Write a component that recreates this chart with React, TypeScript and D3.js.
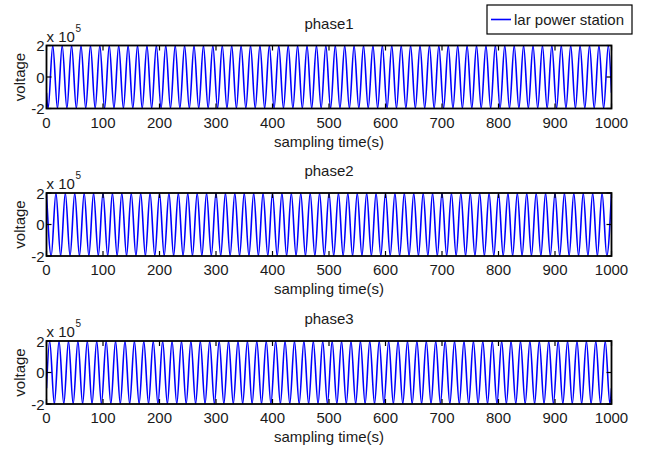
import React from "react";
import * as d3 from "d3";

// ---- data ----
const panelTitles = ["phase1", "phase2", "phase3"];
const xTicks = [0, 100, 200, 300, 400, 500, 600, 700, 800, 900, 1000];
const yTicks = [-2e5, 0, 2e5];
const yTickLabels = ["-2", "0", "2"];
const legendLabel = "lar power station";
const amplitude = [2e5, 2e5, 2e5];
// sign of the first extremum (+1 peak, -1 trough), and values at t=0 / t=1000
const firstSign = [-1, 1, 1];
const startValue = [-1e5, 2e5, -1e5];
const endValue = [-1e5, 2e5, -1e5];

// times of successive extrema (peaks / troughs alternate)
const phase1Extrema = [
  2.8, 11.1, 19.4, 27.8, 36.1, 44.4, 52.8, 61.1, 69.4, 77.8, 86.1, 94.4,
  102.8, 111.1, 119.4, 127.8, 136.1, 144.4, 152.8, 161.1, 169.4, 177.8, 186.1, 194.4,
  202.8, 211.1, 219.4, 227.8, 236.1, 244.4, 252.8, 261.1, 269.4, 277.8, 286.1, 294.4,
  302.8, 311.1, 319.4, 327.8, 336.1, 344.4, 352.8, 361.1, 369.4, 377.8, 386.1, 394.4,
  402.8, 411.1, 419.4, 427.8, 436.1, 444.4, 452.8, 461.1, 469.4, 477.8, 486.1, 494.4,
  502.8, 511.1, 519.4, 527.8, 536.1, 544.4, 552.8, 561.1, 569.4, 577.8, 586.1, 594.4,
  602.8, 611.1, 619.4, 627.8, 636.1, 644.4, 652.8, 661.1, 669.4, 677.8, 686.1, 694.4,
  702.8, 711.1, 719.4, 727.8, 736.1, 744.4, 752.8, 761.1, 769.4, 777.8, 786.1, 794.4,
  802.8, 811.1, 819.4, 827.8, 836.1, 844.4, 852.8, 861.1, 869.4, 877.8, 886.1, 894.4,
  902.8, 911.1, 919.4, 927.8, 936.1, 944.4, 952.8, 961.1, 969.4, 977.8, 986.1, 994.4,
];
const phase2Extrema = [
  0, 8.3, 16.7, 25, 33.3, 41.7, 50, 58.3, 66.7, 75, 83.3, 91.7,
  100, 108.3, 116.7, 125, 133.3, 141.7, 150, 158.3, 166.7, 175, 183.3, 191.7,
  200, 208.3, 216.7, 225, 233.3, 241.7, 250, 258.3, 266.7, 275, 283.3, 291.7,
  300, 308.3, 316.7, 325, 333.3, 341.7, 350, 358.3, 366.7, 375, 383.3, 391.7,
  400, 408.3, 416.7, 425, 433.3, 441.7, 450, 458.3, 466.7, 475, 483.3, 491.7,
  500, 508.3, 516.7, 525, 533.3, 541.7, 550, 558.3, 566.7, 575, 583.3, 591.7,
  600, 608.3, 616.7, 625, 633.3, 641.7, 650, 658.3, 666.7, 675, 683.3, 691.7,
  700, 708.3, 716.7, 725, 733.3, 741.7, 750, 758.3, 766.7, 775, 783.3, 791.7,
  800, 808.3, 816.7, 825, 833.3, 841.7, 850, 858.3, 866.7, 875, 883.3, 891.7,
  900, 908.3, 916.7, 925, 933.3, 941.7, 950, 958.3, 966.7, 975, 983.3, 991.7, 1000,
];
const phase3Extrema = [
  5.6, 13.9, 22.2, 30.6, 38.9, 47.2, 55.6, 63.9, 72.2, 80.6, 88.9, 97.2,
  105.6, 113.9, 122.2, 130.6, 138.9, 147.2, 155.6, 163.9, 172.2, 180.6, 188.9, 197.2,
  205.6, 213.9, 222.2, 230.6, 238.9, 247.2, 255.6, 263.9, 272.2, 280.6, 288.9, 297.2,
  305.6, 313.9, 322.2, 330.6, 338.9, 347.2, 355.6, 363.9, 372.2, 380.6, 388.9, 397.2,
  405.6, 413.9, 422.2, 430.6, 438.9, 447.2, 455.6, 463.9, 472.2, 480.6, 488.9, 497.2,
  505.6, 513.9, 522.2, 530.6, 538.9, 547.2, 555.6, 563.9, 572.2, 580.6, 588.9, 597.2,
  605.6, 613.9, 622.2, 630.6, 638.9, 647.2, 655.6, 663.9, 672.2, 680.6, 688.9, 697.2,
  705.6, 713.9, 722.2, 730.6, 738.9, 747.2, 755.6, 763.9, 772.2, 780.6, 788.9, 797.2,
  805.6, 813.9, 822.2, 830.6, 838.9, 847.2, 855.6, 863.9, 872.2, 880.6, 888.9, 897.2,
  905.6, 913.9, 922.2, 930.6, 938.9, 947.2, 955.6, 963.9, 972.2, 980.6, 988.9, 997.2,
];
const extremaTimes = [phase1Extrema, phase2Extrema, phase3Extrema];

// ---- layout ----
const W = 646;
const H = 457;
const left = 46.5;
const right = 611.5;
const panelTops = [45.5, 193, 341];
const panelH = 63;
const FONT = "'Liberation Sans', Arial, sans-serif";
const TEXT = "#1a1a1a";

function buildSeries(i: number): [number, number][] {
  const ts = extremaTimes[i];
  const pts: [number, number][] = [];
  if (ts[0] > 0) pts.push([0, startValue[i]]);
  ts.forEach((t, k) => {
    const s = k % 2 === 0 ? firstSign[i] : -firstSign[i];
    pts.push([t, s * amplitude[i]]);
  });
  if (ts[ts.length - 1] < 1000) pts.push([1000, endValue[i]]);
  return pts;
}

function Panel({ i }: { i: number }) {
  const top = panelTops[i];
  const bottom = top + panelH;
  const x = d3.scaleLinear().domain([0, 1000]).range([left, right]);
  const y = d3.scaleLinear().domain([-2e5, 2e5]).range([bottom, top]);
  const line = d3
    .line<[number, number]>()
    .x((d) => x(d[0]))
    .y((d) => y(d[1]))
    .curve(d3.curveMonotoneX);
  const data = buildSeries(i);
  const tickLen = 5;
  return (
    <g>
      <clipPath id={`clip${i}`}>
        <rect x={left} y={top} width={right - left} height={panelH} />
      </clipPath>
      <path
        d={line(data) || ""}
        fill="none"
        stroke="#0000ff"
        strokeWidth={1.6}
        clipPath={`url(#clip${i})`}
      />
      {xTicks.map((t) => (
        <g key={t}>
          <line x1={x(t)} x2={x(t)} y1={bottom} y2={bottom - tickLen} stroke="#000" strokeWidth={1.2} />
          <line x1={x(t)} x2={x(t)} y1={top} y2={top + tickLen} stroke="#000" strokeWidth={1.2} />
          <text
            x={x(t)}
            y={bottom + 19}
            textAnchor="middle"
            fontSize={15}
            fontFamily={FONT}
            fill={TEXT}
          >
            {t}
          </text>
        </g>
      ))}
      {yTicks.map((v, k) => (
        <g key={v}>
          <line x1={left} x2={left + tickLen} y1={y(v)} y2={y(v)} stroke="#000" strokeWidth={1.2} />
          <line x1={right} x2={right - tickLen} y1={y(v)} y2={y(v)} stroke="#000" strokeWidth={1.2} />
          <text
            x={left - 2}
            y={y(v) + 5.5}
            textAnchor="end"
            fontSize={15}
            fontFamily={FONT}
            fill={TEXT}
          >
            {yTickLabels[k]}
          </text>
        </g>
      ))}
      <rect x={left} y={top} width={right - left} height={panelH} fill="none" stroke="#000" strokeWidth={1.8} />
      <text x={left} y={top - 4} fontSize={15} fontFamily={FONT} fill={TEXT}>
        x 10
      </text>
      <text x={left + 29} y={top - 14} fontSize={10} fontFamily={FONT} fill={TEXT}>
        5
      </text>
      <text
        x={(left + right) / 2}
        y={top - 17}
        textAnchor="middle"
        fontSize={15}
        fontFamily={FONT}
        fill={TEXT}
      >
        {panelTitles[i]}
      </text>
      <text
        x={(left + right) / 2}
        y={bottom + 38}
        textAnchor="middle"
        fontSize={15}
        fontFamily={FONT}
        fill={TEXT}
      >
        sampling time(s)
      </text>
      <text
        transform={`translate(25,${(top + bottom) / 2}) rotate(-90)`}
        textAnchor="middle"
        fontSize={15}
        fontFamily={FONT}
        fill={TEXT}
      >
        voltage
      </text>
    </g>
  );
}

export default function App() {
  return (
    <svg
      width={W}
      height={H}
      style={{ position: "absolute", left: 0, top: 0, background: "#fff" }}
    >
      <rect x={0} y={0} width={W} height={H} fill="#fff" />
      {panelTitles.map((_, i) => (
        <Panel key={i} i={i} />
      ))}
      <g>
        <rect x={487} y={5} width={145} height={29} fill="#fff" stroke="#000" strokeWidth={1.2} />
        <line x1={491} x2={511} y1={19.5} y2={19.5} stroke="#0000ff" strokeWidth={1.6} />
        <text x={514} y={25} fontSize={15} fontFamily={FONT} fill={TEXT}>
          {legendLabel}
        </text>
      </g>
    </svg>
  );
}
